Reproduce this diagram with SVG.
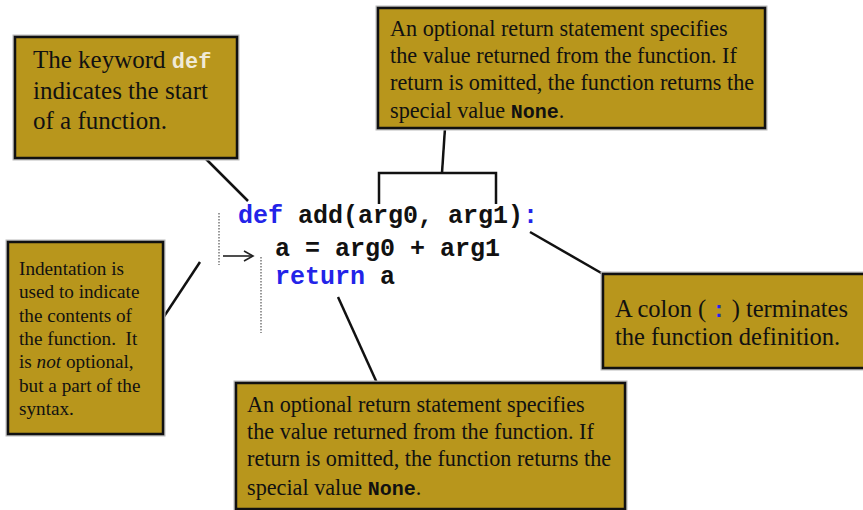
<svg xmlns="http://www.w3.org/2000/svg" width="863" height="510" viewBox="0 0 863 510">
<defs>
<marker id="arr" markerWidth="12" markerHeight="12" refX="10" refY="6" orient="auto" markerUnits="userSpaceOnUse">
<path d="M1,1 L10,6 L1,11" fill="none" stroke="#222" stroke-width="1.6"/>
</marker>
</defs>
<style>
.box{fill:#b8961c;stroke:#111;stroke-width:2.5}
.halo{fill:none;stroke:#bbb;stroke-width:5}
.t{font-family:"Liberation Serif",serif;fill:#111;white-space:pre}
.mono{font-family:"Liberation Mono",monospace;font-weight:bold}
.code{font-family:"Liberation Mono",monospace;font-weight:bold;font-size:25px;fill:#111}
.kw{fill:#2323e8}
.c{stroke:#111;stroke-width:2.5;fill:none}
.dot{stroke:#999;stroke-width:2;stroke-dasharray:1.5 1.5;fill:none}
</style>
<rect width="863" height="510" fill="#fff"/>
<g id="connectors">
<line class="c" x1="205" y1="158" x2="248" y2="201"/>
<line class="c" x1="445" y1="128" x2="442" y2="173"/>
<polyline class="c" points="379,204 379,173 496,173 496,204"/>
<line class="c" x1="163" y1="318" x2="200" y2="262"/>
<line class="c" x1="530" y1="232" x2="603" y2="274"/>
<line class="c" x1="338" y1="297" x2="377" y2="383"/>
<line class="dot" x1="219" y1="213" x2="219" y2="265"/>
<line class="dot" x1="261" y1="257" x2="261" y2="333"/>
<line x1="223" y1="256" x2="253" y2="256" stroke="#222" stroke-width="1.6" marker-end="url(#arr)"/>
</g>
<g id="code">
<text class="code" x="238" y="223"><tspan class="kw">def</tspan> add(arg0, arg1)<tspan class="kw">:</tspan></text>
<text class="code" x="275" y="256">a = arg0 + arg1</text>
<text class="code" x="275" y="284"><tspan class="kw">return</tspan> a</text>
</g>
<g id="node-def">
<rect class="halo" x="15" y="37" width="222" height="121"/>
<rect class="box" x="15" y="37" width="222" height="121"/>
<text class="t" font-size="25" x="33" y="68">The keyword <tspan class="mono" fill="#f0ead6" font-size="22">def</tspan></text>
<text class="t" font-size="25" x="33" y="99">indicates the start</text>
<text class="t" font-size="25" x="33" y="129">of a function.</text>
</g>
<g id="node-return-top">
<rect class="halo" x="378" y="8" width="387" height="120"/>
<rect class="box" x="378" y="8" width="387" height="120"/>
<text class="t" font-size="22.2" x="390" y="36">An optional return statement specifies</text>
<text class="t" font-size="22.2" x="390" y="63">the value returned from the function. If</text>
<text class="t" font-size="22.2" x="390" y="90">return is omitted, the function returns the</text>
<text class="t" font-size="22.2" x="390" y="118">special value <tspan class="mono" font-size="20">None</tspan>.</text>
</g>
<g id="node-indent">
<rect class="halo" x="8" y="242" width="155" height="192"/>
<rect class="box" x="8" y="242" width="155" height="192"/>
<text class="t" font-size="19.2" x="19" y="275">Indentation is</text>
<text class="t" font-size="19.2" x="19" y="298">used to indicate</text>
<text class="t" font-size="19.2" x="19" y="322">the contents of</text>
<text class="t" font-size="19.2" x="19" y="345">the function.  It</text>
<text class="t" font-size="19.2" x="19" y="368">is <tspan font-style="italic">not</tspan> optional,</text>
<text class="t" font-size="19.2" x="19" y="392">but a part of the</text>
<text class="t" font-size="19.2" x="19" y="415">syntax.</text>
</g>
<g id="node-colon">
<rect class="halo" x="603" y="274" width="270" height="94"/>
<rect class="box" x="603" y="274" width="270" height="94"/>
<text class="t" font-size="24.5" x="615" y="317">A colon ( <tspan class="mono kw" font-size="22">:</tspan> ) terminates</text>
<text class="t" font-size="24.5" x="615" y="345">the function definition.</text>
</g>
<g id="node-return-bottom">
<rect class="halo" x="236" y="383" width="389" height="126"/>
<rect class="box" x="236" y="383" width="389" height="126"/>
<text class="t" font-size="22.2" x="247" y="412">An optional return statement specifies</text>
<text class="t" font-size="22.2" x="247" y="439">the value returned from the function. If</text>
<text class="t" font-size="22.2" x="247" y="466">return is omitted, the function returns the</text>
<text class="t" font-size="22.2" x="247" y="495">special value <tspan class="mono" font-size="20">None</tspan>.</text>
</g>
</svg>
